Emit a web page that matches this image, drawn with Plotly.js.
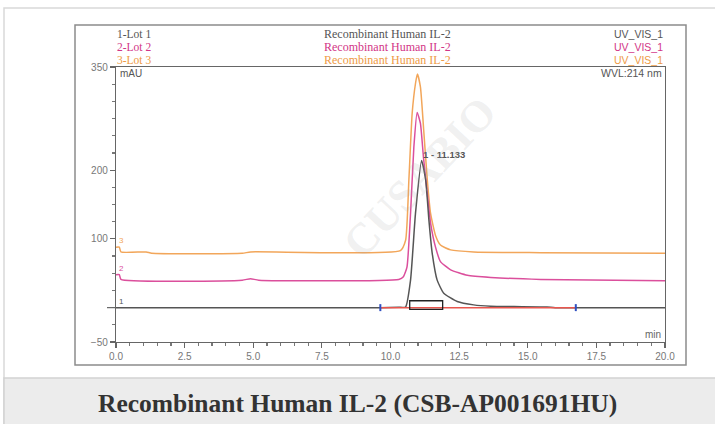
<!DOCTYPE html>
<html>
<head>
<meta charset="utf-8">
<script src="https://cdn.plot.ly/plotly-3.0.1.min.js"></script>
<style>html,body{margin:0;padding:0;background:#fff;}#chart{width:715px;height:424px;}</style>
</head>
<body>
<div id="chart"></div>
<script>
// Trace 1 (Lot 1)
const lot1X = [0, 9.63, 10.3, 10.55, 10.73, 10.91, 11.133, 11.28, 11.4, 11.52, 11.7, 11.94, 12.43, 13.03, 13.65, 14.5, 15.7, 16.0, 20];
const lot1Y = [0, 0, 0.5, 1, 40, 137, 214, 186, 127, 79, 40, 21, 9, 4, 2, 1.5, 1, 0, 0];
// Trace 2 (Lot 2)
const lot2X = [0, 0.12, 0.18, 4.6, 4.9, 5.2, 10.3, 10.47, 10.6, 10.73, 10.85, 10.97, 11.09, 11.2, 11.34, 11.46, 11.64, 11.82, 12.19, 12.8, 13.65, 15.47, 20];
const lot2Y = [48, 48, 41, 40, 42, 40, 41, 45, 59, 137, 233, 284, 268, 219, 166, 123, 88, 67, 55, 47, 44, 41, 39];
// Trace 3 (Lot 3)
const lot3X = [0, 0.12, 0.18, 1.1, 1.3, 4.6, 4.9, 10.36, 10.55, 10.67, 10.79, 10.91, 10.98, 11.09, 11.21, 11.34, 11.46, 11.64, 11.82, 12.19, 13.03, 15.47, 20];
const lot3Y = [88, 88, 81, 81, 79, 79, 81, 83, 98, 186, 283, 326, 340, 321, 258, 186, 137, 105, 91, 84, 81, 80, 79];
// Integration baseline and peak markers
const baseX = [9.63, 16.75];
const baseY = [0, 0];
const peakTime = 11.133;
const peakHeight = 214;
const peakBoxX = [10.7, 11.9];
const peakBoxY = [-2.5, 10];

const seriesNames = ["1-Lot 1", "2-Lot 2", "3-Lot 3"];
const sampleName = "Recombinant Human IL-2";
const channel = "UV_VIS_1";
const colors = ["#555555", "#db4f9c", "#f2a65a"];
const channelColors = ["#555555", "#d23586", "#ee9a45"];

const yTicks = [-50, 100, 200, 350];
const xTicks = [0, 2.5, 5, 7.5, 10, 12.5, 15, 17.5, 20];

const W = 715, H = 424;
const px = v => v / W;
const py = v => 1 - v / H;

const lineOpts = (c) => ({color: c, width: 1.5, shape: 'spline', smoothing: 0.5});

const traces = [
  {x: lot3X, y: lot3Y, mode: 'lines', line: lineOpts(colors[2]), hoverinfo: 'skip'},
  {x: lot2X, y: lot2Y, mode: 'lines', line: lineOpts(colors[1]), hoverinfo: 'skip'},
  {x: lot1X, y: lot1Y, mode: 'lines', line: lineOpts(colors[0]), hoverinfo: 'skip'},
  {x: baseX, y: baseY, mode: 'lines+markers', line: {color: '#e8564e', width: 1.5},
   marker: {symbol: 'line-ns', size: 5, line: {color: '#2f4fc0', width: 2}}, hoverinfo: 'skip'}
];

const sansFont = "Liberation Sans, Arial, sans-serif";
const serifFont = "Liberation Serif, Times New Roman, serif";

const annotations = [];
const headerY = [34, 47, 60];
for (let i = 0; i < 3; i++) {
  annotations.push({xref: 'paper', yref: 'paper', x: px(115), y: py(headerY[i]), xanchor: 'left', yanchor: 'middle',
    text: seriesNames[i], showarrow: false, font: {family: serifFont, size: 11.5, color: channelColors[i]}});
  annotations.push({xref: 'paper', yref: 'paper', x: px(387), y: py(headerY[i]), xanchor: 'center', yanchor: 'middle',
    text: sampleName, showarrow: false, font: {family: serifFont, size: 12, color: channelColors[i]}});
  annotations.push({xref: 'paper', yref: 'paper', x: px(665), y: py(headerY[i]), xanchor: 'right', yanchor: 'middle',
    text: channel, showarrow: false, font: {family: sansFont, size: 10.5, color: channelColors[i]}});
}
// Trace number labels
const startVals = [lot1Y[0], lot2Y[0], lot3Y[0]];
for (let i = 0; i < 3; i++) {
  annotations.push({xref: 'x', yref: 'y', x: 0.05, y: startVals[i], xanchor: 'left', yanchor: 'bottom',
    text: String(i + 1), showarrow: false, font: {family: sansFont, size: 8, color: colors[i]}});
}
annotations.push({xref: 'paper', yref: 'paper', x: px(118), y: py(73), xanchor: 'left', yanchor: 'middle',
  text: 'mAU', showarrow: false, font: {family: sansFont, size: 10, color: '#555'}});
annotations.push({xref: 'paper', yref: 'paper', x: px(664), y: py(73), xanchor: 'right', yanchor: 'middle',
  text: 'WVL:214 nm', showarrow: false, font: {family: sansFont, size: 10.5, color: '#555'}});
annotations.push({xref: 'paper', yref: 'paper', x: px(663), y: py(334), xanchor: 'right', yanchor: 'middle',
  text: 'min', showarrow: false, font: {family: sansFont, size: 10, color: '#666'}});
annotations.push({xref: 'x', yref: 'y', x: peakTime - 0.02, y: peakHeight - 2, xanchor: 'left', yanchor: 'bottom',
  text: '<b>1 - ' + peakTime.toFixed(3) + '</b>', showarrow: false, font: {family: sansFont, size: 9.5, color: '#555'}});
// Caption
annotations.push({xref: 'paper', yref: 'paper', x: px(357), y: py(403), xanchor: 'center', yanchor: 'middle',
  text: '<b>Recombinant Human IL-2 (CSB-AP001691HU)</b>', showarrow: false,
  font: {family: serifFont, size: 25.5, color: '#333'}});
// Watermark
annotations.push({xref: 'paper', yref: 'paper', x: px(420), y: py(178), xanchor: 'center', yanchor: 'middle',
  text: '<b>CUSABIO</b>', textangle: -47, showarrow: false,
  font: {family: serifFont, size: 44, color: 'rgba(170,170,170,0.18)'}});

const shapes = [
  // page frame
  {type: 'rect', xref: 'paper', yref: 'paper', x0: px(4), x1: px(740), y0: py(440), y1: py(8),
   line: {color: '#d9d9d9', width: 1.5}, layer: 'below'},
  // caption band
  {type: 'rect', xref: 'paper', yref: 'paper', x0: px(4), x1: px(740), y0: py(440), y1: py(378),
   fillcolor: '#ececec', line: {color: '#d2d2d2', width: 1.5}, layer: 'below'},
  // chart frame
  {type: 'rect', xref: 'paper', yref: 'paper', x0: px(75), x1: px(686), y0: py(365), y1: py(25),
   line: {color: '#8c8c8c', width: 1.5}, layer: 'below'},
  // zero line extension
  {type: 'line', xref: 'paper', yref: 'y', x0: px(107), x1: px(116), y0: 0, y1: 0,
   line: {color: '#666', width: 1.2}},
  // peak box
  {type: 'rect', xref: 'x', yref: 'y', x0: peakBoxX[0], x1: peakBoxX[1], y0: peakBoxY[0], y1: peakBoxY[1],
   line: {color: '#222', width: 1.3}}
];

const layout = {
  width: W, height: H,
  margin: {l: 0, r: 0, t: 0, b: 0},
  paper_bgcolor: '#ffffff', plot_bgcolor: 'rgba(0,0,0,0)',
  showlegend: false,
  xaxis: {
    domain: [px(116), px(665)], range: [0, 20], tickvals: xTicks,
    ticktext: xTicks.map(v => v.toFixed(1)), ticks: 'outside', ticklen: 5, tickcolor: '#666', tickwidth: 1.2,
    minor: {dtick: 0.5, tick0: 0, ticks: 'outside', ticklen: 3, tickcolor: '#777', showgrid: false},
    showline: true, linecolor: '#666', linewidth: 1.2, mirror: true, showgrid: false, zeroline: false,
    tickfont: {family: sansFont, size: 10, color: '#777'}, fixedrange: true
  },
  yaxis: {
    domain: [py(342), py(67)], range: [-50, 350], tickvals: yTicks,
    ticks: 'outside', ticklen: 5, tickcolor: '#666', tickwidth: 1.2,
    minor: {dtick: 25, tick0: -50, ticks: 'outside', ticklen: 3, tickcolor: '#777', showgrid: false},
    showline: true, linecolor: '#666', linewidth: 1.2, mirror: true, showgrid: false,
    zeroline: true, zerolinecolor: '#666', zerolinewidth: 1.2,
    tickfont: {family: sansFont, size: 10, color: '#777'}, fixedrange: true
  },
  annotations: annotations,
  shapes: shapes
};

Plotly.newPlot('chart', traces, layout, {staticPlot: true, displayModeBar: false});
</script>
</body>
</html>
